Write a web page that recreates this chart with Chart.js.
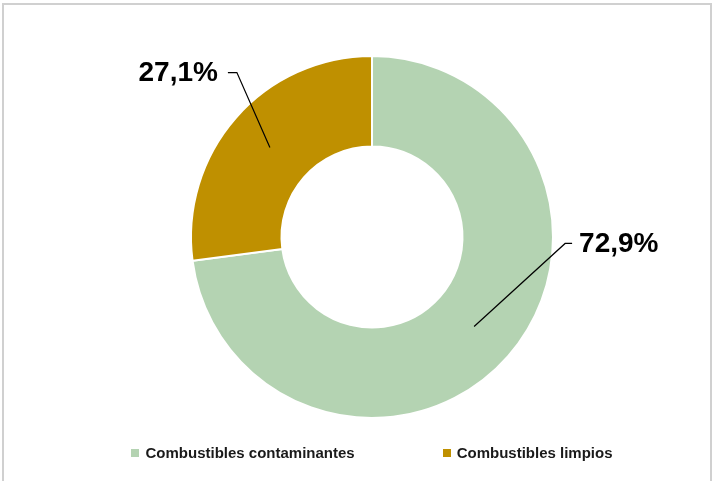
<!DOCTYPE html>
<html lang="es">
<head>
  <meta charset="UTF-8">
  <title>Combustibles</title>
  <style>
    html, body { margin: 0; padding: 0; background: #fff; }
    body { width: 712px; height: 481px; position: relative; overflow: hidden; font-family: "Liberation Sans", Arial, sans-serif; }
    .frame { position: absolute; left: 2px; top: 3px; width: 710px; height: 490px; border: 2px solid #d0d0d0; box-sizing: border-box; }
    #chartBox { position: absolute; left: 0; top: 0; width: 712px; height: 481px; }
    .legend { position: absolute; left: 16px; width: 712px; top: 444px; display: flex; justify-content: center; gap: 88px; }
    .legend span.item { display: flex; align-items: center; font-weight: bold; font-size: 15px; color: #1a1a1a; }
    .legend i { display: inline-block; width: 8px; height: 8px; margin-right: 6px; }
  </style>
</head>
<body>
  <div class="frame"></div>
  <div id="chartBox"><canvas id="myChart" width="712" height="481"></canvas></div>
  <div class="legend" id="legend"></div>

  <script src="https://cdn.jsdelivr.net/npm/chart.js"></script>
  <script>
    const categories = ["Combustibles contaminantes", "Combustibles limpios"];
    const shares = [72.9, 27.1];
    const colors = ["#b4d3b2", "#bf9000"];

    // where each callout bends (offset from the slice centroid) and which side the text sits on
    const callouts = [
      { dx: 91, dy: -83, run: 7, side: "right" },
      { dx: -33, dy: -75, run: -9, side: "left" }
    ];

    const fmt = (v) => v.toFixed(1).replace(".", ",") + "%";

    // legend under the chart
    const legendDiv = document.querySelector("#legend");
    categories.forEach((name, i) => {
      legendDiv.innerHTML += `<span class="item"><i style="background:${colors[i]}"></i>${name}</span>`;
    });

    const calloutPlugin = {
      id: "callouts",
      afterDatasetsDraw(chart) {
        const ctx = chart.ctx;
        const arcs = chart.getDatasetMeta(0).data;
        ctx.save();
        ctx.strokeStyle = "#000";
        ctx.lineWidth = 1.2;
        ctx.fillStyle = "#000";
        ctx.font = "bold 28px 'Liberation Sans', Arial, sans-serif";
        ctx.textBaseline = "middle";
        arcs.forEach((arc, i) => {
          const c = callouts[i];
          const p = arc.tooltipPosition();
          const bx = p.x + c.dx, by = p.y + c.dy;
          const ex = bx + c.run;
          ctx.beginPath();
          ctx.moveTo(p.x, p.y);
          ctx.lineTo(bx, by);
          ctx.lineTo(ex, by);
          ctx.stroke();
          const label = fmt(shares[i]);
          if (c.side === "right") {
            ctx.textAlign = "left";
            ctx.fillText(label, ex + 7, by + 1);
          } else {
            ctx.textAlign = "right";
            ctx.fillText(label, ex - 10, by + 1);
          }
        });
        ctx.restore();
      }
    };

    new Chart(document.getElementById("myChart"), {
      type: "doughnut",
      data: {
        labels: categories,
        datasets: [{
          data: shares,
          backgroundColor: colors,
          borderColor: "#ffffff",
          borderWidth: 2
        }]
      },
      options: {
        responsive: false,
        animation: false,
        cutout: "50%",
        layout: { padding: { top: 55, bottom: 62, left: 100, right: 68 } },
        plugins: {
          legend: { display: false },
          tooltip: { enabled: false }
        }
      },
      plugins: [calloutPlugin]
    });
  </script>
</body>
</html>
